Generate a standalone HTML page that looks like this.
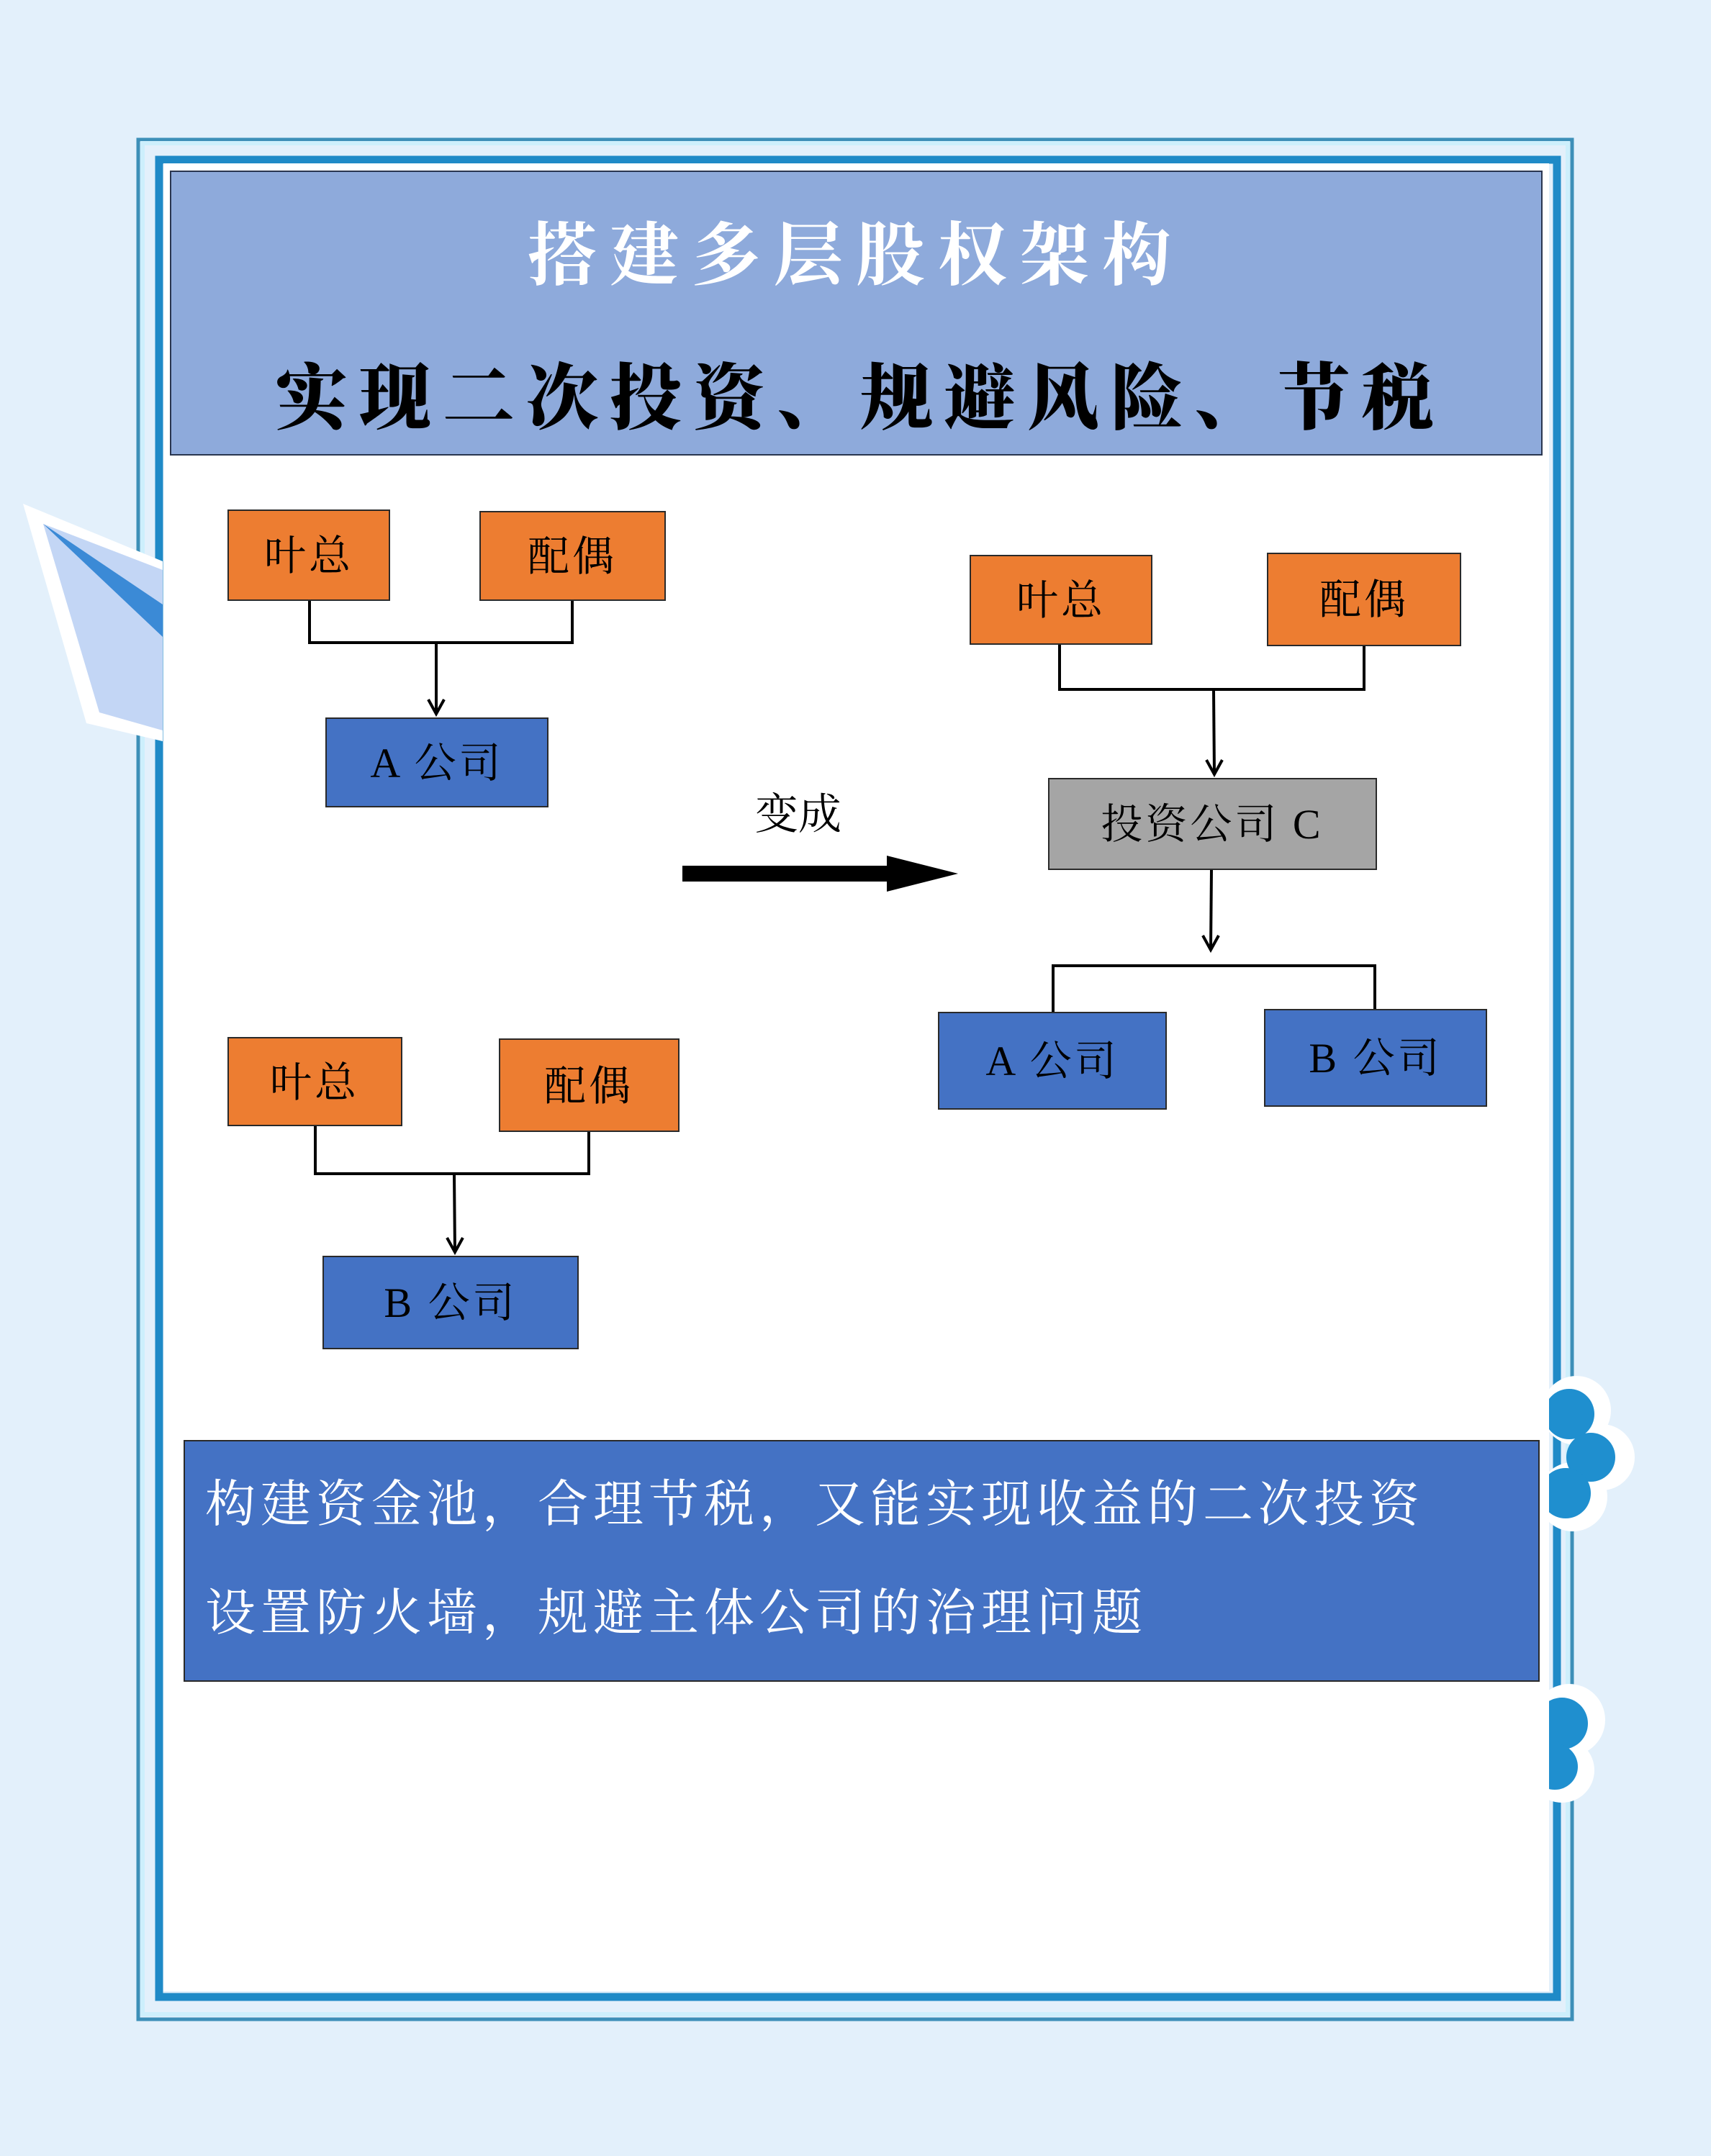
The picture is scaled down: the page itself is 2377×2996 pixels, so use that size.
<!DOCTYPE html>
<html><head><meta charset="utf-8"><style>
html,body{margin:0;padding:0;background:#e3f0fb;}
svg{display:block}
text{font-family:"Liberation Serif","Noto Serif CJK SC",serif;}
</style></head><body>
<svg width="2377" height="2996" viewBox="0 0 2377 2996" xmlns="http://www.w3.org/2000/svg">
<rect width="2377" height="2996" fill="#e3f0fb"/>
<!-- frame lines -->
<rect x="192" y="194" width="1992" height="2612" fill="none" stroke="#3d8fb8" stroke-width="5"/>
<rect x="198" y="199" width="1980" height="2600" fill="none" stroke="#cdeffc" stroke-width="6"/>
<rect x="221" y="222" width="1942" height="2553" fill="none" stroke="#1f8ac7" stroke-width="11"/>
<!-- plane -->
<polygon points="32,700 226,780 226,1030 120,1005" fill="#ffffff"/>
<polygon points="60,728 226,792 226,1015 138,990" fill="#c3d6f5"/>
<polygon points="60,728 226,840 226,885" fill="#3b8ad6"/>
<!-- clouds -->
<g fill="#ffffff">
<circle cx="2190" cy="1960" r="48"/><circle cx="2225" cy="2025" r="46"/><circle cx="2185" cy="2080" r="48"/>
<circle cx="2180" cy="2390" r="50"/><circle cx="2170" cy="2460" r="45"/>
</g>
<g fill="#1f8fcf">
<circle cx="2180" cy="1965" r="35"/><circle cx="2210" cy="2025" r="34"/><circle cx="2175" cy="2075" r="35"/>
<circle cx="2170" cy="2395" r="36"/><circle cx="2160" cy="2455" r="32"/>
</g>
<rect x="227" y="227" width="1925" height="2540" fill="#ffffff"/>
<!-- header -->
<rect x="237" y="238" width="1905" height="394" fill="#8eaadb" stroke="#2a3650" stroke-width="2"/>
<text x="1189" y="388" text-anchor="middle" font-size="96" font-weight="bold" fill="#ffffff" letter-spacing="18" style="font-family:'Noto Serif CJK SC',serif">搭建多层股权架构</text>
<text x="1195" y="588" text-anchor="middle" font-size="100" font-weight="900" fill="#000" letter-spacing="16" style="font-family:'Noto Serif CJK SC',serif">实现二次投资、规避风险、节税</text>
<g stroke="#000" stroke-width="4" fill="none">
<polyline points="430,834 430,893 795,893 795,834"/>
<line x1="606" y1="893" x2="606" y2="992"/>
<polyline points="595,972 606,992 617,972"/>
<polyline points="438,1564 438,1631 818,1631 818,1572"/>
<line x1="631" y1="1631" x2="632" y2="1740"/>
<polyline points="621,1720 632,1740 643,1720"/>
<polyline points="1472,895 1472,958 1895,958 1895,897"/>
<line x1="1686" y1="958" x2="1687" y2="1076"/>
<polyline points="1676,1056 1687,1076 1698,1056"/>
<line x1="1683" y1="1208" x2="1682" y2="1320"/>
<polyline points="1671,1300 1682,1320 1693,1300"/>
<polyline points="1463,1407 1463,1342 1910,1342 1910,1403"/>
</g>
<rect x="948" y="1203" width="290" height="22" fill="#000"/>
<polygon points="1232,1189 1331,1214 1232,1239" fill="#000"/>
<text x="1109" y="1152" text-anchor="middle" font-size="60" fill="#000">变成</text>
<g stroke="#2a2a2a" stroke-width="2">
<rect x="317" y="709" width="224" height="125" fill="#ed7d31"/>
<rect x="667" y="711" width="257" height="123" fill="#ed7d31"/>
<rect x="453" y="998" width="308" height="123" fill="#4472c4"/>
<rect x="317" y="1442" width="241" height="122" fill="#ed7d31"/>
<rect x="694" y="1444" width="249" height="128" fill="#ed7d31"/>
<rect x="449" y="1746" width="354" height="128" fill="#4472c4"/>
<rect x="1348" y="772" width="252" height="123" fill="#ed7d31"/>
<rect x="1761" y="769" width="268" height="128" fill="#ed7d31"/>
<rect x="1457" y="1082" width="455" height="126" fill="#a5a5a5"/>
<rect x="1304" y="1407" width="316" height="134" fill="#4472c4"/>
<rect x="1757" y="1403" width="308" height="134" fill="#4472c4"/>
<rect x="256" y="2002" width="1882" height="334" fill="#4472c4"/>
</g>
<g font-size="58" fill="#000" text-anchor="middle" letter-spacing="4">
<text x="429" y="792">叶总</text>
<text x="795" y="793">配偶</text>
<text x="607" y="1080">A 公司</text>
<text x="437" y="1524">叶总</text>
<text x="818" y="1529">配偶</text>
<text x="626" y="1830">B 公司</text>
<text x="1474" y="854">叶总</text>
<text x="1895" y="853">配偶</text>
<text x="1684" y="1165">投资公司 C</text>
<text x="1462" y="1494">A 公司</text>
<text x="1911" y="1490">B 公司</text>
</g>
<g font-size="70" fill="#ffffff" letter-spacing="7">
<text x="285" y="2114">构建资金池，合理节税，又能实现收益的二次投资</text>
<text x="285" y="2265">设置防火墙，规避主体公司的治理问题</text>
</g>
</svg>
</body></html>
